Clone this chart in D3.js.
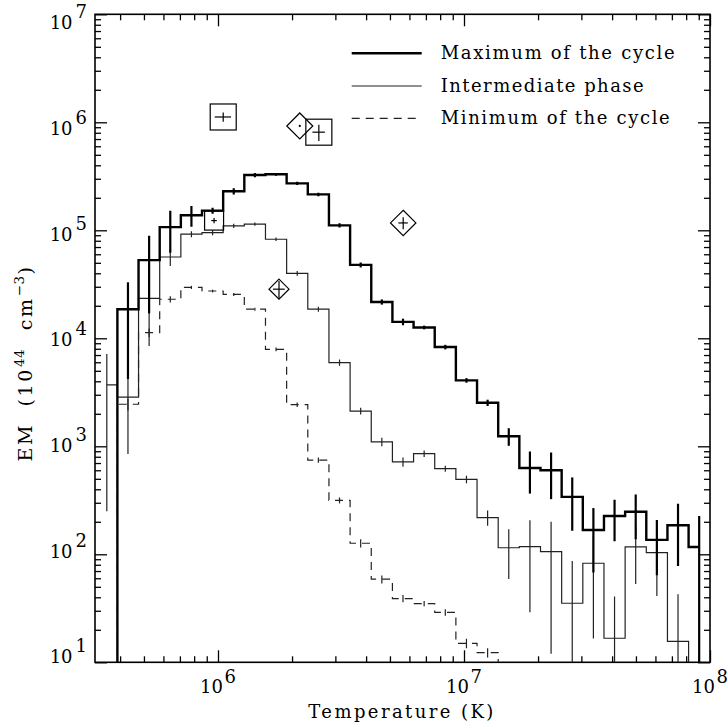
<!DOCTYPE html>
<html>
<head>
<meta charset="utf-8">
<script src="https://cdn.jsdelivr.net/npm/d3@7"></script>
<style>
  body { margin: 0; background: #fff; }
  text { font-family: "DejaVu Serif", serif; fill: #000; }
</style>
</head>
<body>
<svg id="chart" width="727" height="727"></svg>
<script>
// log10 of the bin-centre temperatures (K)
const logT = [5.548, 5.634, 5.720, 5.806, 5.892, 5.978, 6.064, 6.150, 6.236, 6.322,
              6.408, 6.494, 6.580, 6.666, 6.752, 6.838, 6.924, 7.010, 7.096, 7.182,
              7.268, 7.354, 7.440, 7.526, 7.612, 7.698, 7.784, 7.870, 7.956];

// Emission measure (10^44 cm^-3) per bin, with 1-sigma errors.
// Values of 1 lie below the plotted range.
const emMax  = [1, 1.86e4, 5.3e4, 1.07e5, 1.38e5, 1.52e5, 2.3e5, 3.25e5, 3.3e5, 2.72e5,
                2.15e5, 1.11e5, 4.78e4, 2.17e4, 1.42e4, 1.26e4, 8.3e3, 4.08e3, 2.53e3, 1.24e3,
                630, 600, 340, 168, 226, 248, 136, 186, 117];
const errMax = [0, 1.44e4, 3.6e4, 4.5e4, 3e4, 1e4, 1.5e4, 1.5e4, 1e4, 1e4,
                8e3, 5e3, 2.5e3, 1.2e3, 1e3, 5e2, 4e2, 2e2, 1.7e2, 2.3e2,
                265, 276, 175, 100, 94, 110, 72, 108, 109];

const emInt  = [3.7e3, 2.85e3, 2.34e4, 5.66e4, 9.2e4, 9.5e4, 1.1e5, 1.14e5, 8.26e4, 4.0e4,
                1.86e4, 5.96e3, 2.12e3, 1.1e3, 716, 855, 621, 494, 219, 115,
                118, 106, 35.2, 82.6, 16.7, 117, 103.6, 15.6, 1];
const errInt = [3.45e3, 2e3, 1.49e4, 1e4, 6e3, 5e3, 5e3, 4e3, 3e3, 2e3,
                1e3, 4e2, 1.5e2, 1e2, 70, 60, 40, 40, 35, 56,
                89, 94, 51.5, 66, 24, 64, 62.6, 27, 0];

const emMin  = [1, 2.45e3, 1.13e4, 2.3e4, 2.96e4, 2.74e4, 2.55e4, 1.86e4, 7.9e3, 2.43e3,
                746, 316, 126.5, 58.8, 38.9, 35, 29, 15, 12.3, 1,
                1, 1, 1, 1, 1, 1, 1, 1, 1];
const errMin = [0, 300, 1e3, 1.5e3, 1e3, 800, 800, 600, 300, 120,
                40, 20, 11, 5, 3, 2, 2, 1.5, 1.2, 0,
                0, 0, 0, 0, 0, 0, 0, 0, 0];

// Individual determinations (squares and diamonds)
const squareT      = [1.05e6, 2.57e6, 9.64e5];
const squareTErr   = [8e4, 1.5e5, 2.5e4];
const squareEM     = [1.12e6, 8.1e5, 1.23e5];
const squareEMErr  = [1.1e5, 1.4e5, 7e3];
const diamondT     = [2.15e6, 5.66e6, 1.77e6];
const diamondTErr  = [0, 2.5e5, 9.7e4];
const diamondEM    = [9.25e5, 1.17e5, 2.85e4];
const diamondEMErr = [0, 1.5e4, 5.5e3];

// Axis tick exponents and legend text
const xTickExp = [6, 7, 8];
const yTickExp = [1, 2, 3, 4, 5, 6, 7];
const legendLabels = ["Maximum of the cycle", "Intermediate phase", "Minimum of the cycle"];

// ---------------------------------------------------------------- layout
const L = 95, R = 710, T = 14.3, B = 662.3;
const svg = d3.select("#chart");

const x = d3.scaleLog().domain([Math.pow(10, 5.5), 1e8]).range([L, R]);
const y = d3.scaleLog().domain([10, 1e7]).range([B, T]);

svg.append("defs").append("clipPath").attr("id", "plotArea")
  .append("rect").attr("x", L).attr("y", T).attr("width", R - L).attr("height", B - T);

// ---------------------------------------------------------------- axes
const xMajor = xTickExp.map(e => Math.pow(10, e));
const xMinor = x.ticks().filter(v => !xMajor.some(m => Math.abs(m - v) / m < 1e-9));
const yMajor = yTickExp.map(e => Math.pow(10, e));
const yMinor = y.ticks().filter(v => !yMajor.some(m => Math.abs(m - v) / m < 1e-9));

function tickAxis(axisFn, scale, values, size, transform) {
  const g = svg.append("g").attr("transform", transform)
    .call(axisFn(scale).tickValues(values).tickSize(-size).tickFormat(""));
  g.select(".domain").remove();
  g.selectAll("line").attr("stroke", "#000").attr("stroke-width", 1.3);
}
tickAxis(d3.axisBottom, x, xMajor, 12, `translate(0,${B})`);
tickAxis(d3.axisBottom, x, xMinor, 6,  `translate(0,${B})`);
tickAxis(d3.axisTop,    x, xMajor, 12, `translate(0,${T})`);
tickAxis(d3.axisTop,    x, xMinor, 6,  `translate(0,${T})`);
tickAxis(d3.axisLeft,   y, yMajor, 12, `translate(${L},0)`);
tickAxis(d3.axisLeft,   y, yMinor, 6,  `translate(${L},0)`);
tickAxis(d3.axisRight,  y, yMajor, 12, `translate(${R},0)`);
tickAxis(d3.axisRight,  y, yMinor, 6,  `translate(${R},0)`);

svg.append("rect").attr("x", L).attr("y", T).attr("width", R - L).attr("height", B - T)
  .attr("fill", "none").attr("stroke", "#000").attr("stroke-width", 1.6);

// x tick labels: 10 with a raised exponent, centred under each major tick
xTickExp.forEach(e => {
  const t = svg.append("text").attr("x", x(Math.pow(10, e))).attr("y", 693.3)
    .attr("text-anchor", "middle").attr("font-size", 18);
  t.append("tspan").text("10");
  t.append("tspan").attr("dx", 1.5).attr("dy", -10).text(e);
});

// y tick labels, right-aligned left of the frame
const yLabelShift = d3.scaleLinear().domain([1, 7]).range([1, 15]);
yTickExp.forEach(e => {
  const t = svg.append("text").attr("x", 87).attr("y", y(Math.pow(10, e)) + yLabelShift(e))
    .attr("text-anchor", "end").attr("font-size", 18);
  t.append("tspan").text("10");
  t.append("tspan").attr("dx", 3).attr("dy", -11).text(e);
});

// axis titles
svg.append("text").attr("x", 400.8).attr("y", 718).attr("text-anchor", "middle")
  .attr("font-size", 18).attr("textLength", 185).attr("lengthAdjust", "spacing")
  .text("Temperature (K)");

const yTitle = svg.append("text").attr("transform", "translate(31.7,363) rotate(-90)")
  .attr("text-anchor", "middle").attr("font-size", 19)
  .style("letter-spacing", "2.6px").style("word-spacing", "8px");
yTitle.append("tspan").text("EM (10");
yTitle.append("tspan").attr("dy", -8).attr("font-size", 13.5).style("letter-spacing", "0.5px").text("44");
yTitle.append("tspan").attr("dy", 8).attr("dx", 2).text(" cm");
yTitle.append("tspan").attr("dy", -8).attr("font-size", 13.5).style("letter-spacing", "0.5px").text("\u22123");
yTitle.append("tspan").attr("dy", 8).attr("dx", 1).text(")");

// ---------------------------------------------------------------- histograms
const plot = svg.append("g").attr("clip-path", "url(#plotArea)");

const series = [
  { em: emMax, err: errMax, width: 2.4, color: "#000", dash: null, barWidth: 2.2 },
  { em: emInt, err: errInt, width: 1.2, color: "#222", dash: null, barWidth: 1.2 },
  { em: emMin, err: errMin, width: 1.2, color: "#222", dash: "8,6", barWidth: 1.2 }
];

const floorVal = 1;
const step = d3.line()
  .x(d => x(Math.pow(10, d.lt)))
  .y(d => y(Math.max(d.v, floorVal)))
  .curve(d3.curveStep);

series.slice().reverse().forEach(s => {
  const pts = logT.map((lt, i) => ({ lt, v: s.em[i], e: s.err[i] }));
  plot.append("path").datum(pts).attr("d", step)
    .attr("fill", "none").attr("stroke", s.color).attr("stroke-width", s.width)
    .attr("stroke-dasharray", s.dash);
  plot.append("g").selectAll("line")
    .data(pts.filter(p => p.e > 0))
    .join("line")
    .attr("x1", p => x(Math.pow(10, p.lt))).attr("x2", p => x(Math.pow(10, p.lt)))
    .attr("y1", p => y(p.v + p.e))
    .attr("y2", p => y(Math.max(p.v - p.e, floorVal)))
    .attr("stroke", s.color).attr("stroke-width", s.barWidth);
});

// ---------------------------------------------------------------- individual points
const squareSide = [26, 26, 19];
const diamondHalf = [13, 12.7, 10];

function errCross(g, t, dt, em, dem) {
  if (dt === 0 && dem === 0) {
    g.append("circle").attr("cx", x(t)).attr("cy", y(em)).attr("r", 1.1).attr("fill", "#000");
    return;
  }
  g.append("line").attr("x1", x(t - dt)).attr("x2", x(t + dt)).attr("y1", y(em)).attr("y2", y(em))
    .attr("stroke", "#000").attr("stroke-width", 1.2);
  g.append("line").attr("x1", x(t)).attr("x2", x(t)).attr("y1", y(em - dem)).attr("y2", y(em + dem))
    .attr("stroke", "#000").attr("stroke-width", 1.2);
}

const pts = svg.append("g");
squareT.forEach((t, i) => {
  const s = squareSide[i];
  pts.append("rect").attr("x", x(t) - s / 2).attr("y", y(squareEM[i]) - s / 2)
    .attr("width", s).attr("height", s)
    .attr("fill", "none").attr("stroke", "#000").attr("stroke-width", 1.2);
  errCross(pts, t, squareTErr[i], squareEM[i], squareEMErr[i]);
});
diamondT.forEach((t, i) => {
  const h = diamondHalf[i], cx = x(t), cy = y(diamondEM[i]);
  pts.append("path").attr("d", `M${cx},${cy - h}L${cx + h},${cy}L${cx},${cy + h}L${cx - h},${cy}Z`)
    .attr("fill", "none").attr("stroke", "#000").attr("stroke-width", 1.2);
  errCross(pts, t, diamondTErr[i], diamondEM[i], diamondEMErr[i]);
});

// ---------------------------------------------------------------- legend
const legendY = [53.3, 86, 118.3];
const legendWidths = [234, 203, 229];
legendLabels.forEach((lab, i) => {
  const s = series[i];
  svg.append("line").attr("x1", 351.7).attr("x2", 421.7)
    .attr("y1", legendY[i]).attr("y2", legendY[i])
    .attr("stroke", s.color).attr("stroke-width", s.width).attr("stroke-dasharray", s.dash);
  svg.append("text").attr("x", 440.7).attr("y", legendY[i] + 6)
    .attr("font-size", 18).attr("textLength", legendWidths[i]).attr("lengthAdjust", "spacing")
    .text(lab);
});
</script>
</body>
</html>
